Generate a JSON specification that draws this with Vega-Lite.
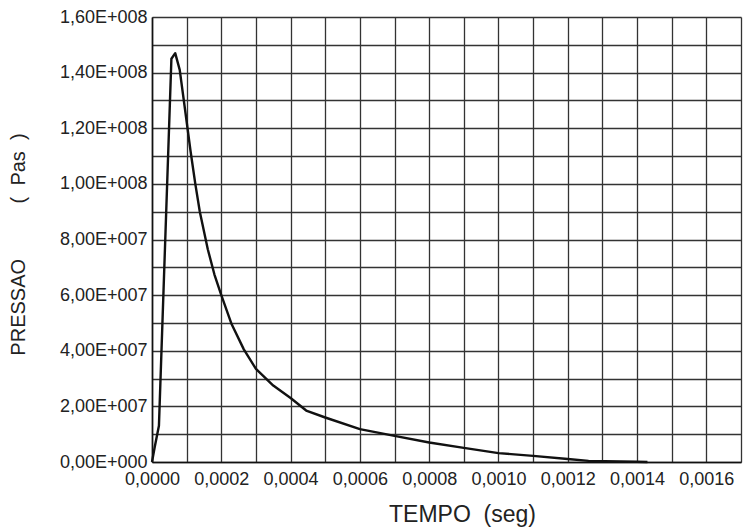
{
  "$schema": "https://vega.github.io/schema/vega-lite/v6.json",
  "width": 589,
  "height": 445,
  "autosize": {"type": "none"},
  "padding": {"left": 152, "top": 17, "right": 7, "bottom": 70},
  "background": "white",
  "config": {
    "view": {"stroke": null},
    "font": "Liberation Sans"
  },
  "data": {
    "values": [
      {"t": 0, "p": 0},
      {"t": 0.000008, "p": 5500000},
      {"t": 0.00002, "p": 13000000},
      {"t": 0.000056, "p": 145000000},
      {"t": 0.000067, "p": 147000000},
      {"t": 0.00008, "p": 141000000},
      {"t": 0.000094, "p": 128000000},
      {"t": 0.000111, "p": 112000000},
      {"t": 0.000125, "p": 100000000},
      {"t": 0.000138, "p": 90000000},
      {"t": 0.000161, "p": 76500000},
      {"t": 0.00018, "p": 67500000},
      {"t": 0.0002, "p": 60000000},
      {"t": 0.00023, "p": 49500000},
      {"t": 0.000265, "p": 40500000},
      {"t": 0.0003, "p": 33500000},
      {"t": 0.00035, "p": 27500000},
      {"t": 0.0004, "p": 23000000},
      {"t": 0.000445, "p": 18500000},
      {"t": 0.0005, "p": 16000000},
      {"t": 0.0006, "p": 11800000},
      {"t": 0.0007, "p": 9400000},
      {"t": 0.0008, "p": 7000000},
      {"t": 0.0009, "p": 5100000},
      {"t": 0.001, "p": 3200000},
      {"t": 0.0011, "p": 2200000},
      {"t": 0.0012, "p": 1100000},
      {"t": 0.00126, "p": 400000},
      {"t": 0.0014, "p": 100000},
      {"t": 0.00143, "p": 0}
    ]
  },
  "mark": {"type": "line", "color": "#111", "strokeWidth": 2.4, "strokeJoin": "round"},
  "encoding": {
    "x": {
      "field": "t",
      "type": "quantitative",
      "scale": {"domain": [0, 0.0017], "nice": false, "zero": false},
      "axis": {
        "title": "TEMPO\u00a0\u00a0(seg)",
        "titleFont": "Liberation Sans",
        "titleFontSize": 23,
        "titleFontWeight": "normal",
        "titleColor": "#222",
        "titleX": 310,
        "titleY": 59,
        "titleAlign": "center",
        "titleBaseline": "alphabetic",
        "values": [0, 0.0001, 0.0002, 0.0003, 0.0004, 0.0005, 0.0006, 0.0007, 0.0008, 0.0009, 0.001, 0.0011, 0.0012, 0.0013, 0.0014, 0.0015, 0.0016, 0.0017],
        "labelExpr": "round(datum.value*10000) % 2 == 0 ? replace(format(datum.value, '.4f'), '.', ',') : ''",
        "labelFont": "Liberation Sans",
        "labelFontSize": 18,
        "labelColor": "#222",
        "labelPadding": 8,
        "labelOverlap": false,
        "labelFlush": false,
        "ticks": false,
        "tickSize": 0,
        "grid": true,
        "gridColor": "#333",
        "gridWidth": 1.3,
        "gridOpacity": 1,
        "domainColor": "#111",
        "domainWidth": 1.6
      }
    },
    "y": {
      "field": "p",
      "type": "quantitative",
      "scale": {"domain": [0, 160000000], "nice": false},
      "axis": {
        "title": "PRESSAO\u00a0\u00a0\u00a0\u00a0\u00a0\u00a0\u00a0\u00a0\u00a0\u00a0(\u00a0\u00a0Pas\u00a0\u00a0)",
        "titleFont": "Liberation Sans",
        "titleFontSize": 20,
        "titleFontWeight": "normal",
        "titleColor": "#222",
        "titleX": -128,
        "titleY": 227,
        "titleAngle": -90,
        "titleAlign": "center",
        "titleBaseline": "alphabetic",
        "values": [0, 10000000, 20000000, 30000000, 40000000, 50000000, 60000000, 70000000, 80000000, 90000000, 100000000, 110000000, 120000000, 130000000, 140000000, 150000000, 160000000],
        "labelExpr": "round(datum.value/1e7) % 2 != 0 ? '' : round(datum.value/1e7) == 0 ? '0,00E+000' : round(datum.value/1e7) < 10 ? replace(format(round(datum.value/1e7), '.2f'), '.', ',') + 'E+007' : replace(format(round(datum.value/1e7)/10, '.2f'), '.', ',') + 'E+008'",
        "labelFont": "Liberation Sans",
        "labelFontSize": 18,
        "labelColor": "#222",
        "labelPadding": 5,
        "labelOverlap": false,
        "labelFlush": false,
        "ticks": false,
        "tickSize": 0,
        "grid": true,
        "gridColor": "#333",
        "gridWidth": 1.3,
        "gridOpacity": 1,
        "domainColor": "#111",
        "domainWidth": 1.6
      }
    }
  }
}
